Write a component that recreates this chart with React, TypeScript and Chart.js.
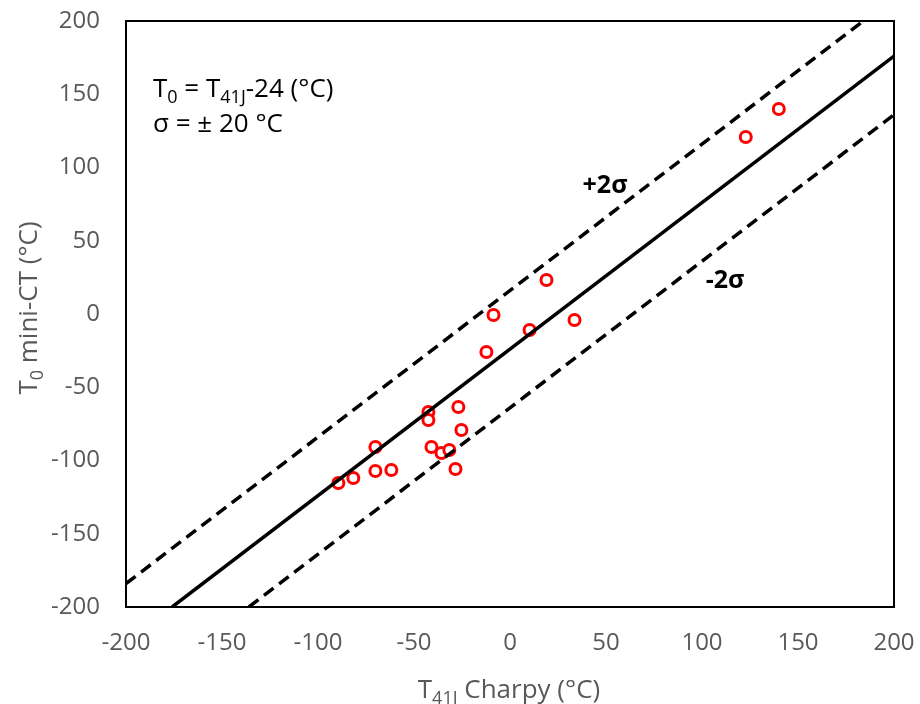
import React, { useEffect, useRef } from "react";
import { Chart, registerables } from "chart.js";

Chart.register(...registerables);

// Data
const charpyT41J = [-89.4, -81.6, -70.1, -70.1, -61.8, -42.5, -42.5, -40.9, -35.7, -31.6, -26.9, -28.4, -25.3, -12.3, -8.6, 10.2, 19, 33.6, 122.8, 140];
const miniCtT0 = [-115.4, -111.9, -90.8, -107.2, -106.5, -66.9, -72.4, -90.8, -94.9, -92.8, -63.5, -105.8, -79.2, -25.9, -0.7, -10.9, 23.2, -4.1, 120.8, 139.9];

const fitX = [-176, 200];
const fitY = [-200, 176];
const plusX = [-200, 184];
const plusY = [-184, 200];
const minusX = [-136, 200];
const minusY = [-200, 136];

const axisMin = -200;
const axisMax = 200;
const axisStep = 50;

const FONT = "'Open Sans', Lato, sans-serif";
const TICK_COLOR = "#595959";

type Part = [string, boolean];

function drawParts(ctx: CanvasRenderingContext2D, parts: Part[], x: number, y: number, size: number, align: "left" | "center", weight = "normal") {
  const subSize = Math.round(size * 0.7);
  let total = 0;
  const widths = parts.map(([t, sub]) => {
    ctx.font = `${weight} ${sub ? subSize : size}px ${FONT}`;
    const w = ctx.measureText(t).width;
    total += w;
    return w;
  });
  let cx = align === "center" ? x - total / 2 : x;
  ctx.textBaseline = "alphabetic";
  ctx.textAlign = "left";
  parts.forEach(([t, sub], i) => {
    ctx.font = `${weight} ${sub ? subSize : size}px ${FONT}`;
    ctx.fillText(t, cx, sub ? y + size * 0.22 : y);
    cx += widths[i];
  });
}

const overlayPlugin = {
  id: "overlay",
  afterDatasetsDraw(chart: any) {
    const ctx: CanvasRenderingContext2D = chart.ctx;
    const a = chart.chartArea;
    ctx.save();
    // frame
    ctx.strokeStyle = "#000";
    ctx.lineWidth = 2;
    ctx.strokeRect(a.left, a.top, a.right - a.left, a.bottom - a.top);

    // annotations
    ctx.fillStyle = "#000";
    drawParts(ctx, [["T", false], ["0", true], [" = T", false], ["41J", true], ["-24 (°C)", false]], 153, 97, 26, "left");
    drawParts(ctx, [["σ = ± 20 °C", false]], 153, 132, 26, "left");
    drawParts(ctx, [["+2σ", false]], 605, 193, 25, "center", "bold");
    drawParts(ctx, [["-2σ", false]], 725, 288, 25, "center", "bold");

    // axis titles
    ctx.fillStyle = TICK_COLOR;
    drawParts(ctx, [["T", false], ["41J", true], [" Charpy (°C)", false]], 509, 698, 26, "center");
    ctx.translate(37, 308);
    ctx.rotate(-Math.PI / 2);
    drawParts(ctx, [["T", false], ["0", true], [" mini-CT (°C)", false]], 0, 0, 26, "center");
    ctx.restore();
  },
};

const zeroPad = (s: any) => {
  s.paddingTop = 0;
  s.paddingBottom = 0;
  s.paddingLeft = 0;
  s.paddingRight = 0;
};

export default function App() {
  const ref = useRef<HTMLCanvasElement | null>(null);

  useEffect(() => {
    if (!ref.current) return;
    const pts = charpyT41J.map((x, i) => ({ x, y: miniCtT0[i] }));
    const line = (xs: number[], ys: number[]) => xs.map((x, i) => ({ x, y: ys[i] }));
    const chart = new Chart(ref.current, {
      type: "scatter",
      data: {
        datasets: [
          {
            type: "line",
            data: line(fitX, fitY),
            borderColor: "#000",
            borderWidth: 3.5,
            pointRadius: 0,
            fill: false,
          },
          {
            type: "line",
            data: line(plusX, plusY),
            borderColor: "#000",
            borderWidth: 3.5,
            borderDash: [12, 7],
            pointRadius: 0,
            fill: false,
          },
          {
            type: "line",
            data: line(minusX, minusY),
            borderColor: "#000",
            borderWidth: 3.5,
            borderDash: [12, 7],
            pointRadius: 0,
            fill: false,
          },
          {
            data: pts,
            pointStyle: "circle",
            pointRadius: 5.5,
            pointBorderWidth: 3,
            pointBorderColor: "#ff0000",
            pointBackgroundColor: "#ffffff",
            borderColor: "#ff0000",
          } as any,
        ],
      },
      options: {
        animation: false,
        responsive: false,
        devicePixelRatio: 1,
        layout: { padding: { top: 21, right: 26, left: 0, bottom: 0 } },
        plugins: { legend: { display: false }, tooltip: { enabled: false } },
        scales: {
          x: {
            type: "linear",
            min: axisMin,
            max: axisMax,
            ticks: { stepSize: axisStep, color: TICK_COLOR, font: { family: FONT, size: 24 }, padding: 22 },
            grid: { display: false, drawTicks: false },
            border: { display: false },
            afterFit: (s: any) => { s.height = 97; zeroPad(s); },
          },
          y: {
            type: "linear",
            min: axisMin,
            max: axisMax,
            ticks: { stepSize: axisStep, color: TICK_COLOR, font: { family: FONT, size: 24 }, padding: 26 },
            grid: { display: false, drawTicks: false },
            border: { display: false },
            afterFit: (s: any) => { s.width = 126; zeroPad(s); },
          },
        },
      },
      plugins: [overlayPlugin],
    });
    return () => chart.destroy();
  }, []);

  return (
    <div style={{ position: "fixed", left: 0, top: 0, width: 920, height: 704, background: "#fff" }}>
      <canvas ref={ref} width={920} height={704} />
    </div>
  );
}
